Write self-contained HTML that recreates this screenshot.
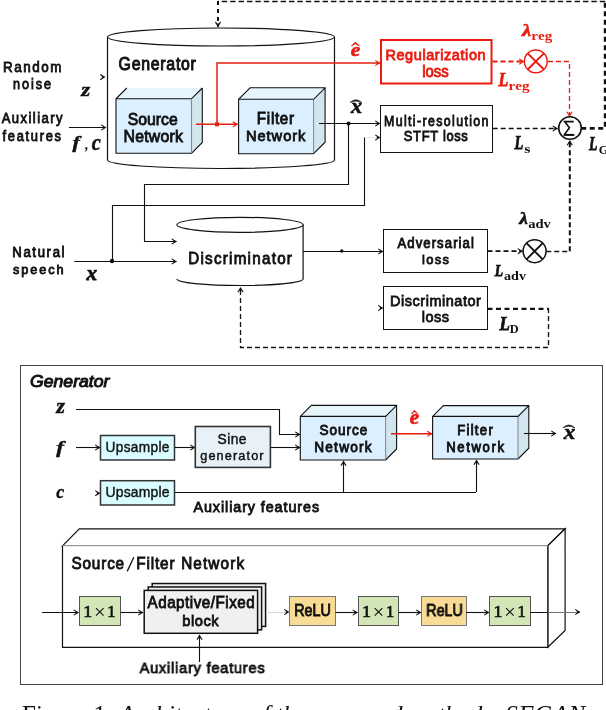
<!DOCTYPE html>
<html><head><meta charset="utf-8">
<style>
html,body{margin:0;padding:0;background:#fff;width:606px;height:710px;overflow:hidden}
svg{display:block;will-change:transform}
text{font-kerning:none}
</style></head>
<body>
<svg width="606" height="710" viewBox="0 0 606 710">
<text transform="scale(0.8800,1)" x="3.32" y="71.60" font-family='"Liberation Sans",sans-serif' font-size="15.26" font-weight="normal" font-style="normal" fill="#111" stroke="#111" stroke-width="0.85" textLength="66.52" lengthAdjust="spacing">Random</text>
<text transform="scale(0.8800,1)" x="14.87" y="88.80" font-family='"Liberation Sans",sans-serif' font-size="14.39" font-weight="normal" font-style="normal" fill="#111" stroke="#111" stroke-width="0.85" textLength="43.24" lengthAdjust="spacing">noise</text>
<text transform="scale(0.8800,1)" x="1.93" y="123.50" font-family='"Liberation Sans",sans-serif' font-size="14.83" font-weight="normal" font-style="normal" fill="#111" stroke="#111" stroke-width="0.85" textLength="69.21" lengthAdjust="spacing">Auxiliary</text>
<text transform="scale(0.8800,1)" x="2.78" y="140.70" font-family='"Liberation Sans",sans-serif' font-size="14.63" font-weight="normal" font-style="normal" fill="#111" stroke="#111" stroke-width="0.85" textLength="66.59" lengthAdjust="spacing">features</text>
<text x="81.18" y="95.58" font-family='"Liberation Serif",serif' font-size="19.72" font-weight="bold" font-style="italic" fill="#111" stroke="#111" stroke-width="0.45" textLength="8.99" lengthAdjust="spacingAndGlyphs">z</text>
<text x="72.52" y="147.63" font-family='"Liberation Serif",serif' font-size="16.19" font-weight="bold" font-style="italic" fill="#111" stroke="#111" stroke-width="0.45" textLength="7.24" lengthAdjust="spacingAndGlyphs">f</text>
<text x="85.36" y="149.19" font-family='"Liberation Serif",serif' font-size="14.25" font-weight="bold" font-style="italic" fill="#111" stroke="#111" stroke-width="0.2" textLength="3.04" lengthAdjust="spacingAndGlyphs">,</text>
<text x="91.83" y="149.76" font-family='"Liberation Serif",serif' font-size="22.14" font-weight="bold" font-style="italic" fill="#111" stroke="#111" stroke-width="0.45" textLength="9.05" lengthAdjust="spacingAndGlyphs">c</text>
<path d="M100.20,79.70 L104.40,77.10 L100.20,74.50" fill="none" stroke="#111" stroke-width="1.1"/>
<path d="M101.80,78.40 L104.40,77.10 L101.80,75.80 Z" fill="#111"/>
<path d="M69,127.5 L106,127.5" fill="none" stroke="#111" stroke-width="1.1"/>
<path d="M101.20,130.10 L105.40,127.50 L101.20,124.90" fill="none" stroke="#111" stroke-width="1.1"/>
<path d="M102.80,128.80 L105.40,127.50 L102.80,126.20 Z" fill="#111"/>
<ellipse cx="221" cy="37" rx="113.5" ry="9" fill="none" stroke="#111" stroke-width="1.1"/>
<path d="M107.5,37 L107.5,160 A113.5,8.5 0 0 0 334.5,160 L334.5,37" fill="none" stroke="#111" stroke-width="1.2"/>
<text transform="scale(0.9000,1)" x="131.78" y="69.70" font-family='"Liberation Sans",sans-serif' font-size="17.59" font-weight="normal" font-style="normal" fill="#111" stroke="#111" stroke-width="1.0" textLength="85.84" lengthAdjust="spacing">Generator</text>
<polygon points="116,98.8 126.8,88.0 202.3,88.0 191.5,98.8" fill="#e6f5fc"/>
<polygon points="191.5,98.8 202.3,88.0 202.3,142.5 191.5,153.3" fill="#d3e5ef"/>
<rect x="116" y="98.8" width="75.50" height="54.50" fill="#dcefff"/>
<path d="M191.5,153.3 L116,153.3 L116,98.8 L126.8,88.0 M202.3,88.0 L202.3,142.5 L191.5,153.3 M116,98.8 L191.5,98.8 L202.3,88.0" fill="none" stroke="#111" stroke-width="1.1" stroke-linejoin="miter"/>
<path d="M191.5,99.39999999999999 L191.5,152.70000000000002" stroke="#8a8a8a" stroke-width="1.1"/>
<text transform="scale(0.9273,1)" x="137.83" y="124.60" font-family='"Liberation Sans",sans-serif' font-size="17.01" font-weight="normal" font-style="normal" fill="#111" stroke="#111" stroke-width="0.85" textLength="53.88" lengthAdjust="spacing">Source</text>
<text transform="scale(0.9500,1)" x="130.02" y="141.70" font-family='"Liberation Sans",sans-serif' font-size="16.72" font-weight="normal" font-style="normal" fill="#111" stroke="#111" stroke-width="0.85" textLength="62.45" lengthAdjust="spacing">Network</text>
<polygon points="238.6,99.3 250.1,87.8 325.1,87.8 313.6,99.3" fill="#e6f5fc"/>
<polygon points="313.6,99.3 325.1,87.8 325.1,142.2 313.6,153.7" fill="#d3e5ef"/>
<rect x="238.6" y="99.3" width="75.00" height="54.40" fill="#dcefff"/>
<path d="M313.6,153.7 L238.6,153.7 L238.6,99.3 L250.1,87.8 L325.1,87.8 L325.1,142.2 L313.6,153.7 M238.6,99.3 L313.6,99.3 L325.1,87.8" fill="none" stroke="#111" stroke-width="1.1" stroke-linejoin="miter"/>
<path d="M313.6,99.89999999999999 L313.6,153.1" stroke="#8a8a8a" stroke-width="1.1"/>
<text transform="scale(0.9500,1)" x="270.40" y="123.80" font-family='"Liberation Sans",sans-serif' font-size="15.99" font-weight="normal" font-style="normal" fill="#111" stroke="#111" stroke-width="0.85" textLength="39.10" lengthAdjust="spacing">Filter</text>
<text transform="scale(0.9500,1)" x="258.97" y="140.90" font-family='"Liberation Sans",sans-serif' font-size="15.41" font-weight="normal" font-style="normal" fill="#111" stroke="#111" stroke-width="0.85" textLength="62.45" lengthAdjust="spacing">Network</text>
<path d="M196,124.3 L237.6,124.3" fill="none" stroke="#e81c10" stroke-width="1.5"/>
<path d="M232.80,126.90 L237.00,124.30 L232.80,121.70" fill="none" stroke="#e81c10" stroke-width="1.1"/>
<path d="M234.40,125.60 L237.00,124.30 L234.40,123.00 Z" fill="#e81c10"/>
<path d="M217,124.3 L217,63 L380,63" fill="none" stroke="#e81c10" stroke-width="1.5"/>
<path d="M375.20,65.60 L379.40,63.00 L375.20,60.40" fill="none" stroke="#e81c10" stroke-width="1.1"/>
<path d="M376.80,64.30 L379.40,63.00 L376.80,61.70 Z" fill="#e81c10"/>
<rect x="215" y="122.3" width="4" height="4" fill="#e81c10"/>
<text x="350.70" y="56.32" font-family='"Liberation Serif",serif' font-size="18.71" font-weight="bold" font-style="italic" fill="#e81c10" stroke="#e81c10" stroke-width="0.6" textLength="9.47" lengthAdjust="spacingAndGlyphs">e</text>
<path d="M350.9,45.9 L355.35,42 L359.8,45.9 L358.6,45.9 L355.35,43.9 L352.09999999999997,45.9 Z" fill="#e81c10" stroke="#e81c10" stroke-width="0.3"/>
<rect x="381" y="40" width="110.50" height="43.50" fill="none" stroke="#e81c10" stroke-width="2"/>
<text transform="scale(0.9500,1)" x="405.72" y="59.90" font-family='"Liberation Sans",sans-serif' font-size="15.26" font-weight="normal" font-style="normal" fill="#e81c10" stroke="#e81c10" stroke-width="0.85" textLength="105.45" lengthAdjust="spacing">Regularization</text>
<text transform="scale(0.9500,1)" x="444.44" y="76.70" font-family='"Liberation Sans",sans-serif' font-size="15.73" font-weight="normal" font-style="normal" fill="#e81c10" stroke="#e81c10" stroke-width="0.85" textLength="28.00" lengthAdjust="spacing">loss</text>
<circle cx="535.8" cy="61.4" r="11.4" fill="none" stroke="#e81c10" stroke-width="1.4"/>
<path d="M527.7,53.3 L543.9,69.5 M543.9,53.3 L527.7,69.5" stroke="#e81c10" stroke-width="1.9"/>
<path d="M492.5,61.6 L524,61.6" fill="none" stroke="#e81c10" stroke-width="2" stroke-dasharray="5,3"/>
<path d="M519.20,64.20 L523.40,61.60 L519.20,59.00" fill="none" stroke="#e81c10" stroke-width="1.1"/>
<path d="M520.80,62.90 L523.40,61.60 L520.80,60.30 Z" fill="#e81c10"/>
<path d="M548,61.5 L569.5,61.5 L569.5,116.5" fill="none" stroke="#e81c10" stroke-width="1.3" stroke-dasharray="5,3"/>
<path d="M566.90,111.70 L569.50,115.90 L572.10,111.70" fill="none" stroke="#e81c10" stroke-width="1.1"/>
<path d="M568.20,113.30 L569.50,115.90 L570.80,113.30 Z" fill="#e81c10"/>
<text x="522.01" y="35.70" font-family='"Liberation Serif",serif' font-size="17.61" font-weight="bold" font-style="italic" fill="#e81c10" stroke="#e81c10" stroke-width="0.6" textLength="9.23" lengthAdjust="spacingAndGlyphs">λ</text>
<text x="531.29" y="39.50" font-family='"Liberation Serif",serif' font-size="12.67" font-weight="bold" font-style="normal" fill="#e81c10" textLength="20.95" lengthAdjust="spacingAndGlyphs">reg</text>
<text x="498.49" y="86.42" font-family='"Liberation Serif",serif' font-size="17.94" font-weight="bold" font-style="italic" fill="#e81c10" stroke="#e81c10" stroke-width="0.75" textLength="9.75" lengthAdjust="spacingAndGlyphs">L</text>
<text x="508.49" y="90.33" font-family='"Liberation Serif",serif' font-size="12.54" font-weight="bold" font-style="normal" fill="#e81c10" textLength="20.95" lengthAdjust="spacingAndGlyphs">reg</text>
<rect x="380.5" y="105.5" width="112.00" height="47.00" fill="#fff" stroke="#111" stroke-width="1.0"/>
<text transform="scale(0.8600,1)" x="446.52" y="125.60" font-family='"Liberation Sans",sans-serif' font-size="14.39" font-weight="normal" font-style="normal" fill="#111" stroke="#111" stroke-width="0.85" textLength="121.48" lengthAdjust="spacing">Multi-resolution</text>
<text transform="scale(0.9000,1)" x="448.71" y="141.30" font-family='"Liberation Sans",sans-serif' font-size="14.39" font-weight="normal" font-style="normal" fill="#111" stroke="#111" stroke-width="0.85" textLength="71.12" lengthAdjust="spacing">STFT loss</text>
<path d="M319,123.5 L380,123.5" fill="none" stroke="#111" stroke-width="1.1"/>
<path d="M375.20,126.10 L379.40,123.50 L375.20,120.90" fill="none" stroke="#111" stroke-width="1.1"/>
<path d="M376.80,124.80 L379.40,123.50 L376.80,122.20 Z" fill="#111"/>
<circle cx="348.5" cy="123.5" r="2.1" fill="#111"/>
<text x="350.95" y="113.42" font-family='"Liberation Serif",serif' font-size="19.94" font-weight="bold" font-style="italic" fill="#111" stroke="#111" stroke-width="0.55" textLength="11.12" lengthAdjust="spacingAndGlyphs">x</text>
<path d="M350,102.5 Q355.9,97.10000000000001 361.8,102.5 Q355.9,99.5 350,102.5 Z" fill="#111" stroke="#111" stroke-width="0.6"/>
<path d="M348.5,123.8 L348.5,184.5 L144.5,184.5 L144.5,241.5 L176.5,241.5" fill="none" stroke="#111" stroke-width="1.1"/>
<path d="M171.70,244.10 L175.90,241.50 L171.70,238.90" fill="none" stroke="#111" stroke-width="1.1"/>
<path d="M173.30,242.80 L175.90,241.50 L173.30,240.20 Z" fill="#111"/>
<path d="M112.5,261.2 L112.5,205.5 L364.5,205.5 L364.5,137.5 L365,137.5" fill="none" stroke="#111" stroke-width="1.1"/>
<path d="M364.4,137.5 L380,137.5" fill="none" stroke="#e6e6e6" stroke-width="1"/>
<path d="M375.20,140.10 L379.40,137.50 L375.20,134.90" fill="none" stroke="#111" stroke-width="1.1"/>
<path d="M376.80,138.80 L379.40,137.50 L376.80,136.20 Z" fill="#111"/>
<circle cx="570" cy="128" r="11.3" fill="#fff" stroke="#111" stroke-width="1.6"/>
<path d="M573.8,121.6 L564.6,121.6 L569.4,127.8 L564.4,134.8 L574.2,134.8" fill="none" stroke="#111" stroke-width="1.6" stroke-linejoin="miter"/>
<path d="M564.2,134.9 L574.2,134.9" stroke="#111" stroke-width="2"/>
<path d="M492.7,128.5 L557.5,128.5" fill="none" stroke="#111" stroke-width="1.6" stroke-dasharray="5,3"/>
<path d="M552.70,131.10 L556.90,128.50 L552.70,125.90" fill="none" stroke="#111" stroke-width="1.1"/>
<path d="M554.30,129.80 L556.90,128.50 L554.30,127.20 Z" fill="#111"/>
<path d="M581.2,128.3 L605.2,128.3 L605.2,1.5" fill="none" stroke="#111" stroke-width="2.8" stroke-dasharray="5,3.5"/>
<path d="M605.2,1.5 L218,1.5" fill="none" stroke="#111" stroke-width="1.4" stroke-dasharray="5.4,3"/>
<path d="M218,1 L218,26.7" fill="none" stroke="#111" stroke-width="2" stroke-dasharray="4,4"/>
<path d="M215.40,21.90 L218.00,26.10 L220.60,21.90" fill="none" stroke="#111" stroke-width="1.1"/>
<path d="M216.70,23.50 L218.00,26.10 L219.30,23.50 Z" fill="#111"/>
<text x="514.38" y="149.43" font-family='"Liberation Serif",serif' font-size="18.40" font-weight="bold" font-style="italic" fill="#111" stroke="#111" stroke-width="0.75" textLength="8.79" lengthAdjust="spacingAndGlyphs">L</text>
<text x="524.32" y="153.37" font-family='"Liberation Serif",serif' font-size="13.10" font-weight="bold" font-style="normal" fill="#111" textLength="6.17" lengthAdjust="spacingAndGlyphs">s</text>
<text x="588.88" y="150.43" font-family='"Liberation Serif",serif' font-size="18.10" font-weight="bold" font-style="italic" fill="#111" stroke="#111" stroke-width="0.75" textLength="8.36" lengthAdjust="spacingAndGlyphs">L</text>
<text x="598.69" y="153.58" font-family='"Liberation Serif",serif' font-size="12.20" font-weight="bold" font-style="normal" fill="#111" textLength="9.64" lengthAdjust="spacingAndGlyphs">G</text>
<text transform="scale(0.9500,1)" x="12.89" y="256.90" font-family='"Liberation Sans",sans-serif' font-size="13.81" font-weight="normal" font-style="normal" fill="#111" stroke="#111" stroke-width="0.85" textLength="55.06" lengthAdjust="spacing">Natural</text>
<text transform="scale(0.9500,1)" x="13.65" y="273.80" font-family='"Liberation Sans",sans-serif' font-size="13.39" font-weight="normal" font-style="normal" fill="#111" stroke="#111" stroke-width="0.85" textLength="53.40" lengthAdjust="spacing">speech</text>
<text x="86.53" y="279.62" font-family='"Liberation Serif",serif' font-size="20.37" font-weight="bold" font-style="italic" fill="#111" stroke="#111" stroke-width="0.75" textLength="10.61" lengthAdjust="spacingAndGlyphs">x</text>
<path d="M74.3,261.5 L176.5,261.5" fill="none" stroke="#111" stroke-width="1.1"/>
<path d="M171.70,264.10 L175.90,261.50 L171.70,258.90" fill="none" stroke="#111" stroke-width="1.1"/>
<path d="M173.30,262.80 L175.90,261.50 L173.30,260.20 Z" fill="#111"/>
<circle cx="112" cy="261" r="2.2" fill="#111"/>
<ellipse cx="240" cy="224.8" rx="63.1" ry="7.5" fill="none" stroke="#111" stroke-width="1.2"/>
<path d="M303.1,224.8 L303.1,279 A63.1,6.5 0 0 1 176.9,279" fill="none" stroke="#111" stroke-width="1.2"/>
<text transform="scale(0.9500,1)" x="198.08" y="264.00" font-family='"Liberation Sans",sans-serif' font-size="15.99" font-weight="normal" font-style="normal" fill="#111" stroke="#111" stroke-width="0.85" textLength="109.21" lengthAdjust="spacing">Discriminator</text>
<path d="M303.1,251.5 L383,251.5" fill="none" stroke="#111" stroke-width="1.1"/>
<path d="M378.20,254.10 L382.40,251.50 L378.20,248.90" fill="none" stroke="#111" stroke-width="1.1"/>
<path d="M379.80,252.80 L382.40,251.50 L379.80,250.20 Z" fill="#111"/>
<circle cx="341.8" cy="251" r="1.7" fill="#111"/>
<rect x="383.5" y="229.5" width="104.00" height="43.00" fill="#fff" stroke="#111" stroke-width="1.0"/>
<text transform="scale(0.9500,1)" x="418.42" y="248.00" font-family='"Liberation Sans",sans-serif' font-size="13.81" font-weight="normal" font-style="normal" fill="#111" stroke="#111" stroke-width="0.85" textLength="80.37" lengthAdjust="spacing">Adversarial</text>
<text transform="scale(0.9500,1)" x="444.16" y="264.00" font-family='"Liberation Sans",sans-serif' font-size="13.66" font-weight="normal" font-style="normal" fill="#111" stroke="#111" stroke-width="0.85" textLength="28.52" lengthAdjust="spacing">loss</text>
<circle cx="534.6" cy="251.2" r="11.5" fill="none" stroke="#111" stroke-width="1.5"/>
<path d="M526.5,243.1 L542.7,259.3 M542.7,243.1 L526.5,259.3" stroke="#111" stroke-width="1.9"/>
<path d="M487.5,251.2 L522.5,251.2" fill="none" stroke="#111" stroke-width="1.8" stroke-dasharray="5,3"/>
<path d="M517.70,253.80 L521.90,251.20 L517.70,248.60" fill="none" stroke="#111" stroke-width="1.1"/>
<path d="M519.30,252.50 L521.90,251.20 L519.30,249.90 Z" fill="#111"/>
<path d="M546.3,251.5 L569.8,251.5" fill="none" stroke="#111" stroke-width="1.3" stroke-dasharray="5,3"/>
<path d="M569.8,251.2 L569.8,140.5" fill="none" stroke="#111" stroke-width="2" stroke-dasharray="5,3"/>
<path d="M572.40,145.30 L569.80,141.10 L567.20,145.30" fill="none" stroke="#111" stroke-width="1.1"/>
<path d="M571.10,143.70 L569.80,141.10 L568.50,143.70 Z" fill="#111"/>
<text x="519.17" y="223.50" font-family='"Liberation Serif",serif' font-size="17.75" font-weight="bold" font-style="italic" fill="#111" stroke="#111" stroke-width="0.6" textLength="8.64" lengthAdjust="spacingAndGlyphs">λ</text>
<text x="528.23" y="227.68" font-family='"Liberation Serif",serif' font-size="12.51" font-weight="bold" font-style="normal" fill="#111" textLength="22.67" lengthAdjust="spacingAndGlyphs">adv</text>
<text x="494.78" y="276.12" font-family='"Liberation Serif",serif' font-size="17.49" font-weight="bold" font-style="italic" fill="#111" stroke="#111" stroke-width="0.75" textLength="8.36" lengthAdjust="spacingAndGlyphs">L</text>
<text x="504.05" y="279.68" font-family='"Liberation Serif",serif' font-size="12.22" font-weight="bold" font-style="normal" fill="#111" textLength="21.95" lengthAdjust="spacingAndGlyphs">adv</text>
<rect x="383.5" y="286.5" width="104.00" height="43.00" fill="#fff" stroke="#111" stroke-width="1.0"/>
<text transform="scale(0.9500,1)" x="410.64" y="305.80" font-family='"Liberation Sans",sans-serif' font-size="15.26" font-weight="normal" font-style="normal" fill="#111" stroke="#111" stroke-width="0.8" textLength="95.51" lengthAdjust="spacing">Discriminator</text>
<text transform="scale(0.9500,1)" x="444.02" y="321.60" font-family='"Liberation Sans",sans-serif' font-size="15.32" font-weight="normal" font-style="normal" fill="#111" stroke="#111" stroke-width="0.8" textLength="28.74" lengthAdjust="spacing">loss</text>
<path d="M378.20,310.60 L382.40,308.00 L378.20,305.40" fill="none" stroke="#111" stroke-width="1.1"/>
<path d="M379.80,309.30 L382.40,308.00 L379.80,306.70 Z" fill="#111"/>
<path d="M487.5,308.8 L548.5,308.8" fill="none" stroke="#111" stroke-width="2.3" stroke-dasharray="5,3.5"/>
<path d="M548.5,308 L548.5,347.5 L240.5,347.5 L240.5,287.5" fill="none" stroke="#111" stroke-width="1.3" stroke-dasharray="5,3"/>
<path d="M243.10,292.30 L240.50,288.10 L237.90,292.30" fill="none" stroke="#111" stroke-width="1.1"/>
<path d="M241.80,290.70 L240.50,288.10 L239.20,290.70 Z" fill="#111"/>
<text x="499.50" y="330.32" font-family='"Liberation Serif",serif' font-size="17.79" font-weight="bold" font-style="italic" fill="#111" stroke="#111" stroke-width="0.75" textLength="10.39" lengthAdjust="spacingAndGlyphs">L</text>
<text x="509.68" y="333.18" font-family='"Liberation Serif",serif' font-size="12.49" font-weight="bold" font-style="normal" fill="#111" textLength="8.92" lengthAdjust="spacingAndGlyphs">D</text>
<rect x="20.5" y="365.5" width="582.00" height="319.00" fill="none" stroke="#444" stroke-width="1.0"/>
<text x="30.13" y="386.80" font-family='"Liberation Sans",sans-serif' font-size="17.15" font-weight="normal" font-style="italic" fill="#111" stroke="#111" stroke-width="1.0" textLength="79.17" lengthAdjust="spacingAndGlyphs">Generator</text>
<text x="56.36" y="413.47" font-family='"Liberation Serif",serif' font-size="20.15" font-weight="bold" font-style="italic" fill="#111" stroke="#111" stroke-width="0.45" textLength="8.70" lengthAdjust="spacingAndGlyphs">z</text>
<text x="56.23" y="452.95" font-family='"Liberation Serif",serif' font-size="17.50" font-weight="bold" font-style="italic" fill="#111" stroke="#111" stroke-width="0.45" textLength="7.64" lengthAdjust="spacingAndGlyphs">f</text>
<text x="56.16" y="497.59" font-family='"Liberation Serif",serif' font-size="19.23" font-weight="bold" font-style="italic" fill="#111" stroke="#111" stroke-width="0.45" textLength="7.98" lengthAdjust="spacingAndGlyphs">c</text>
<path d="M76,409.5 L279.5,409.5 L279.5,434.5 L300,434.5" fill="none" stroke="#111" stroke-width="1.1"/>
<path d="M295.20,437.10 L299.40,434.50 L295.20,431.90" fill="none" stroke="#111" stroke-width="1.1"/>
<path d="M296.80,435.80 L299.40,434.50 L296.80,433.20 Z" fill="#111"/>
<path d="M76,447.5 L100,447.5" fill="none" stroke="#111" stroke-width="1.1"/>
<path d="M95.20,450.10 L99.40,447.50 L95.20,444.90" fill="none" stroke="#111" stroke-width="1.1"/>
<path d="M96.80,448.80 L99.40,447.50 L96.80,446.20 Z" fill="#111"/>
<rect x="100.5" y="435.5" width="74.00" height="24.50" fill="#d8fcff" stroke="#333" stroke-width="1.5"/>
<text transform="scale(0.9500,1)" x="111.10" y="451.80" font-family='"Liberation Sans",sans-serif' font-size="14.39" font-weight="normal" font-style="normal" fill="#111" stroke="#111" stroke-width="0.4" textLength="67.22" lengthAdjust="spacing">Upsample</text>
<path d="M174.7,447.5 L195,447.5" fill="none" stroke="#111" stroke-width="1.1"/>
<path d="M190.20,450.10 L194.40,447.50 L190.20,444.90" fill="none" stroke="#111" stroke-width="1.1"/>
<path d="M191.80,448.80 L194.40,447.50 L191.80,446.20 Z" fill="#111"/>
<rect x="195.3" y="426.5" width="75.10" height="40.90" fill="#e7f1f7" stroke="#333" stroke-width="1.6"/>
<text transform="scale(0.9500,1)" x="229.05" y="443.70" font-family='"Liberation Sans",sans-serif' font-size="14.54" font-weight="normal" font-style="normal" fill="#111" stroke="#111" stroke-width="0.45" textLength="30.41" lengthAdjust="spacing">Sine</text>
<text transform="scale(0.9500,1)" x="210.73" y="459.90" font-family='"Liberation Sans",sans-serif' font-size="13.39" font-weight="normal" font-style="normal" fill="#111" stroke="#111" stroke-width="0.45" textLength="66.73" lengthAdjust="spacing">generator</text>
<path d="M270.4,447.5 L300,447.5" fill="none" stroke="#111" stroke-width="1.1"/>
<path d="M295.20,450.10 L299.40,447.50 L295.20,444.90" fill="none" stroke="#111" stroke-width="1.1"/>
<path d="M296.80,448.80 L299.40,447.50 L296.80,446.20 Z" fill="#111"/>
<polygon points="300.3,416.4 311.3,405.4 396.6,405.4 385.6,416.4" fill="#e6f5fc"/>
<polygon points="385.6,416.4 396.6,405.4 396.6,449 385.6,460" fill="#d3e5ef"/>
<rect x="300.3" y="416.4" width="85.30" height="43.60" fill="#dcefff"/>
<path d="M385.6,460 L300.3,460 L300.3,416.4 L311.3,405.4 L396.6,405.4 L396.6,449 L385.6,460 M300.3,416.4 L385.6,416.4 L396.6,405.4" fill="none" stroke="#111" stroke-width="1.1" stroke-linejoin="miter"/>
<path d="M385.6,417.0 L385.6,459.4" stroke="#8a8a8a" stroke-width="1.1"/>
<text transform="scale(0.9500,1)" x="336.43" y="435.20" font-family='"Liberation Sans",sans-serif' font-size="14.24" font-weight="normal" font-style="normal" fill="#111" stroke="#111" stroke-width="0.85" textLength="50.07" lengthAdjust="spacing">Source</text>
<text transform="scale(0.9500,1)" x="330.74" y="451.70" font-family='"Liberation Sans",sans-serif' font-size="14.39" font-weight="normal" font-style="normal" fill="#111" stroke="#111" stroke-width="0.85" textLength="60.48" lengthAdjust="spacing">Network</text>
<path d="M391,433.8 L432,433.8" fill="none" stroke="#e81c10" stroke-width="1.5"/>
<path d="M427.20,436.40 L431.40,433.80 L427.20,431.20" fill="none" stroke="#e81c10" stroke-width="1.1"/>
<path d="M428.80,435.10 L431.40,433.80 L428.80,432.50 Z" fill="#e81c10"/>
<text x="409.71" y="424.40" font-family='"Liberation Serif",serif' font-size="20.17" font-weight="bold" font-style="italic" fill="#e81c10" stroke="#e81c10" stroke-width="0.6" textLength="9.36" lengthAdjust="spacingAndGlyphs">e</text>
<path d="M411,413.7 L414.5,409.9 L418,413.7 L416.8,413.7 L414.5,411.79999999999995 L412.2,413.7 Z" fill="#e81c10" stroke="#e81c10" stroke-width="0.3"/>
<polygon points="432.6,416.4 443.40000000000003,405.59999999999997 528.8,405.59999999999997 518,416.4" fill="#e6f5fc"/>
<polygon points="518,416.4 528.8,405.59999999999997 528.8,448.2 518,459" fill="#d3e5ef"/>
<rect x="432.6" y="416.4" width="85.40" height="42.60" fill="#dcefff"/>
<path d="M518,459 L432.6,459 L432.6,416.4 L443.40000000000003,405.59999999999997 L528.8,405.59999999999997 L528.8,448.2 L518,459 M432.6,416.4 L518,416.4 L528.8,405.59999999999997" fill="none" stroke="#111" stroke-width="1.1" stroke-linejoin="miter"/>
<path d="M518,417.0 L518,458.4" stroke="#8a8a8a" stroke-width="1.1"/>
<text transform="scale(0.9500,1)" x="481.21" y="434.90" font-family='"Liberation Sans",sans-serif' font-size="13.81" font-weight="normal" font-style="normal" fill="#111" stroke="#111" stroke-width="0.85" textLength="37.52" lengthAdjust="spacing">Filter</text>
<text transform="scale(0.9500,1)" x="469.63" y="451.70" font-family='"Liberation Sans",sans-serif' font-size="13.81" font-weight="normal" font-style="normal" fill="#111" stroke="#111" stroke-width="0.85" textLength="61.06" lengthAdjust="spacing">Network</text>
<path d="M524,433.5 L556,433.5" fill="none" stroke="#111" stroke-width="1.1"/>
<path d="M551.20,436.10 L555.40,433.50 L551.20,430.90" fill="none" stroke="#111" stroke-width="1.1"/>
<path d="M552.80,434.80 L555.40,433.50 L552.80,432.20 Z" fill="#111"/>
<text x="563.66" y="438.73" font-family='"Liberation Serif",serif' font-size="20.59" font-weight="bold" font-style="italic" fill="#111" stroke="#111" stroke-width="0.55" textLength="11.53" lengthAdjust="spacingAndGlyphs">x</text>
<path d="M562.9,427.9 Q568.9,422.0 574.9,427.9 Q568.9,424.40000000000003 562.9,427.9 Z" fill="#111" stroke="#111" stroke-width="0.6"/>
<path d="M95.20,495.80 L99.40,493.20 L95.20,490.60" fill="none" stroke="#111" stroke-width="1.1"/>
<path d="M96.80,494.50 L99.40,493.20 L96.80,491.90 Z" fill="#111"/>
<rect x="100.5" y="480.7" width="74.00" height="24.30" fill="#d8fcff" stroke="#333" stroke-width="1.5"/>
<text transform="scale(0.9500,1)" x="111.08" y="497.00" font-family='"Liberation Sans",sans-serif' font-size="14.68" font-weight="normal" font-style="normal" fill="#111" stroke="#111" stroke-width="0.4" textLength="67.26" lengthAdjust="spacing">Upsample</text>
<path d="M174.7,492.5 L476,492.5" fill="none" stroke="#111" stroke-width="1.1"/>
<path d="M343.5,492 L343.5,461" fill="none" stroke="#111" stroke-width="1.1"/>
<path d="M346.10,465.80 L343.50,461.60 L340.90,465.80" fill="none" stroke="#111" stroke-width="1.1"/>
<path d="M344.80,464.20 L343.50,461.60 L342.20,464.20 Z" fill="#111"/>
<path d="M476.5,492 L476.5,460" fill="none" stroke="#111" stroke-width="1.1"/>
<path d="M479.10,464.80 L476.50,460.60 L473.90,464.80" fill="none" stroke="#111" stroke-width="1.1"/>
<path d="M477.80,463.20 L476.50,460.60 L475.20,463.20 Z" fill="#111"/>
<text transform="scale(0.9500,1)" x="203.68" y="512.00" font-family='"Liberation Sans",sans-serif' font-size="15.12" font-weight="normal" font-style="normal" fill="#111" stroke="#111" stroke-width="0.85" textLength="132.21" lengthAdjust="spacing">Auxiliary features</text>
<polygon points="62.5,545.8 79.3,528.8 565.1,528.8 547.8,545.8" fill="#fff" stroke="#111" stroke-width="1.2"/>
<polygon points="547.8,545.8 565.1,528.8 565.1,630.4 547.8,647.3" fill="#fff" stroke="#111" stroke-width="1.2"/>
<path d="M62.5,545.8 L62.5,647.3 L547.8,647.3 L547.8,545.8" fill="#fff" stroke="#111" stroke-width="1.2"/>
<path d="M62.5,545.8 L547.8,545.8" stroke="#aaa" stroke-width="1"/>
<text transform="scale(0.9500,1)" x="75.19" y="569.30" font-family='"Liberation Sans",sans-serif' font-size="16.13" font-weight="normal" font-style="normal" fill="#111" stroke="#111" stroke-width="0.85" textLength="55.50" lengthAdjust="spacing">Source</text>
<path d="M133.8,557.3 L127.2,571.4" stroke="#111" stroke-width="1.3"/>
<text transform="scale(0.9500,1)" x="143.33" y="569.30" font-family='"Liberation Sans",sans-serif' font-size="16.13" font-weight="normal" font-style="normal" fill="#111" stroke="#111" stroke-width="0.85" textLength="40.38" lengthAdjust="spacing">Filter</text>
<text transform="scale(0.9500,1)" x="190.70" y="569.30" font-family='"Liberation Sans",sans-serif' font-size="16.13" font-weight="normal" font-style="normal" fill="#111" stroke="#111" stroke-width="0.85" textLength="66.19" lengthAdjust="spacing">Network</text>
<path d="M42,612.5 L78.5,612.5" fill="none" stroke="#111" stroke-width="1.1"/>
<path d="M73.70,615.10 L77.90,612.50 L73.70,609.90" fill="none" stroke="#111" stroke-width="1.1"/>
<path d="M75.30,613.80 L77.90,612.50 L75.30,611.20 Z" fill="#111"/>
<rect x="79.5" y="596.5" width="41.00" height="29.00" fill="#d2e6b8" stroke="#555" stroke-width="1.0"/>
<text x="83.38" y="616.75" font-family='"Liberation Serif",serif' font-size="16.81" font-weight="normal" font-style="normal" fill="#111" stroke="#111" stroke-width="0.7" textLength="8.95" lengthAdjust="spacingAndGlyphs">1</text>
<text x="107.30" y="616.75" font-family='"Liberation Serif",serif' font-size="16.81" font-weight="normal" font-style="normal" fill="#111" stroke="#111" stroke-width="0.7" textLength="8.24" lengthAdjust="spacingAndGlyphs">1</text>
<path d="M96.0,608.2 L103.6,615.6 M103.6,608.2 L96.0,615.6" stroke="#111" stroke-width="1.1"/>
<path d="M120.7,612.5 L143,612.5" fill="none" stroke="#111" stroke-width="1.1"/>
<path d="M138.20,615.10 L142.40,612.50 L138.20,609.90" fill="none" stroke="#111" stroke-width="1.1"/>
<path d="M139.80,613.80 L142.40,612.50 L139.80,611.20 Z" fill="#111"/>
<rect x="152.2" y="583.52" width="113.40" height="42.90" fill="#f0f0f0" stroke="#111" stroke-width="1.5"/>
<rect x="148.2" y="586.9599999999999" width="113.40" height="42.90" fill="#f0f0f0" stroke="#111" stroke-width="1.5"/>
<rect x="144.2" y="590.4" width="113.40" height="42.90" fill="#f0f0f0" stroke="#111" stroke-width="1.5"/>
<text transform="scale(0.9500,1)" x="155.36" y="608.30" font-family='"Liberation Sans",sans-serif' font-size="15.99" font-weight="normal" font-style="normal" fill="#111" stroke="#111" stroke-width="0.85" textLength="112.69" lengthAdjust="spacing">Adaptive/Fixed</text>
<text transform="scale(0.9500,1)" x="191.98" y="625.60" font-family='"Liberation Sans",sans-serif' font-size="15.46" font-weight="normal" font-style="normal" fill="#111" stroke="#111" stroke-width="0.85" textLength="38.08" lengthAdjust="spacing">block</text>
<path d="M266,612.5 L289,612.5" fill="none" stroke="#d8d4d4" stroke-width="1"/>
<path d="M284.20,614.60 L288.40,612.00 L284.20,609.40" fill="none" stroke="#111" stroke-width="1.1"/>
<path d="M285.80,613.30 L288.40,612.00 L285.80,610.70 Z" fill="#111"/>
<rect x="289.5" y="596.5" width="46.00" height="29.00" fill="#f8db94" stroke="#777" stroke-width="1.0"/>
<text transform="scale(0.9154,1)" x="321.34" y="615.80" font-family='"Liberation Sans",sans-serif' font-size="15.70" font-weight="normal" font-style="normal" fill="#111" stroke="#111" stroke-width="0.85" textLength="40.13" lengthAdjust="spacing">ReLU</text>
<path d="M335.6,612.5 L357.5,612.5" fill="none" stroke="#111" stroke-width="1.1"/>
<path d="M352.70,615.10 L356.90,612.50 L352.70,609.90" fill="none" stroke="#111" stroke-width="1.1"/>
<path d="M354.30,613.80 L356.90,612.50 L354.30,611.20 Z" fill="#111"/>
<rect x="358.5" y="596.5" width="40.00" height="29.00" fill="#d2e6b8" stroke="#555" stroke-width="1.0"/>
<text x="362.08" y="616.75" font-family='"Liberation Serif",serif' font-size="16.81" font-weight="normal" font-style="normal" fill="#111" stroke="#111" stroke-width="0.7" textLength="8.95" lengthAdjust="spacingAndGlyphs">1</text>
<text x="386.00" y="616.75" font-family='"Liberation Serif",serif' font-size="16.81" font-weight="normal" font-style="normal" fill="#111" stroke="#111" stroke-width="0.7" textLength="8.24" lengthAdjust="spacingAndGlyphs">1</text>
<path d="M374.7,608.2 L382.3,615.6 M382.3,608.2 L374.7,615.6" stroke="#111" stroke-width="1.1"/>
<path d="M398.3,612.5 L421,612.5" fill="none" stroke="#111" stroke-width="1.1"/>
<path d="M416.20,615.10 L420.40,612.50 L416.20,609.90" fill="none" stroke="#111" stroke-width="1.1"/>
<path d="M417.80,613.80 L420.40,612.50 L417.80,611.20 Z" fill="#111"/>
<rect x="421.5" y="596.5" width="45.00" height="29.00" fill="#f8db94" stroke="#777" stroke-width="1.0"/>
<text transform="scale(0.9154,1)" x="465.55" y="615.80" font-family='"Liberation Sans",sans-serif' font-size="15.70" font-weight="normal" font-style="normal" fill="#111" stroke="#111" stroke-width="0.85" textLength="40.13" lengthAdjust="spacing">ReLU</text>
<path d="M466.3,612.5 L489,612.5" fill="none" stroke="#111" stroke-width="1.1"/>
<path d="M484.20,615.10 L488.40,612.50 L484.20,609.90" fill="none" stroke="#111" stroke-width="1.1"/>
<path d="M485.80,613.80 L488.40,612.50 L485.80,611.20 Z" fill="#111"/>
<rect x="489.5" y="596.5" width="41.00" height="29.00" fill="#d2e6b8" stroke="#555" stroke-width="1.0"/>
<text x="493.48" y="616.75" font-family='"Liberation Serif",serif' font-size="16.81" font-weight="normal" font-style="normal" fill="#111" stroke="#111" stroke-width="0.7" textLength="8.95" lengthAdjust="spacingAndGlyphs">1</text>
<text x="517.40" y="616.75" font-family='"Liberation Serif",serif' font-size="16.81" font-weight="normal" font-style="normal" fill="#111" stroke="#111" stroke-width="0.7" textLength="8.24" lengthAdjust="spacingAndGlyphs">1</text>
<path d="M506.1,608.2 L513.7,615.6 M513.7,608.2 L506.1,615.6" stroke="#111" stroke-width="1.1"/>
<path d="M530,612.5 L548,612.5" fill="none" stroke="#111" stroke-width="1"/>
<path d="M548,612.5 L580,612.5" fill="none" stroke="#777" stroke-width="1"/>
<path d="M575.20,614.60 L579.40,612.00 L575.20,609.40" fill="none" stroke="#111" stroke-width="1.1"/>
<path d="M576.80,613.30 L579.40,612.00 L576.80,610.70 Z" fill="#111"/>
<path d="M199.5,662 L199.5,635" fill="none" stroke="#111" stroke-width="1.1"/>
<path d="M202.10,639.80 L199.50,635.60 L196.90,639.80" fill="none" stroke="#111" stroke-width="1.1"/>
<path d="M200.80,638.20 L199.50,635.60 L198.20,638.20 Z" fill="#111"/>
<text transform="scale(0.9500,1)" x="146.94" y="673.50" font-family='"Liberation Sans",sans-serif' font-size="15.41" font-weight="normal" font-style="normal" fill="#111" stroke="#111" stroke-width="0.85" textLength="131.69" lengthAdjust="spacing">Auxiliary features</text>
<text x="22" y="723" font-family='"Liberation Serif",serif' font-size="25" fill="#111">Figure 1: <tspan font-style="italic">Architecture of the </tspan><tspan font-style="italic" dx="-3.5">proposed method, </tspan><tspan font-style="italic" dx="10.5" letter-spacing="0.5">SFGAN</tspan></text>
</svg>
</body></html>
